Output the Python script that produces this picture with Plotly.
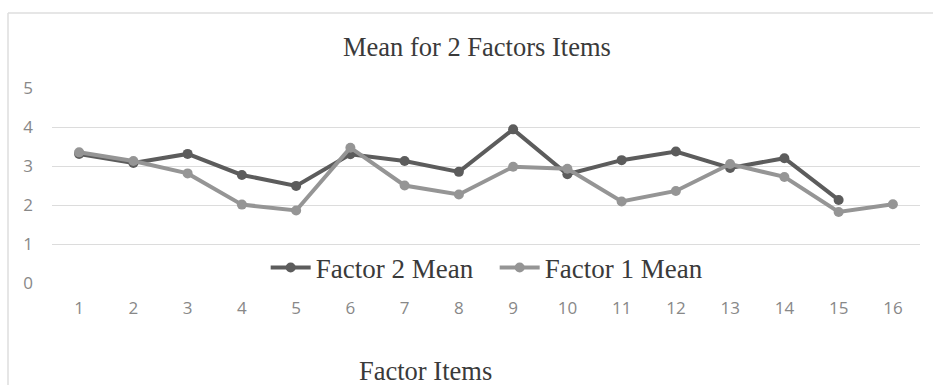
import plotly.graph_objects as go

items = [str(i) for i in range(1, 17)]
factor2_mean = [3.31, 3.08, 3.31, 2.77, 2.49, 3.30, 3.13, 2.85, 3.94, 2.79, 3.15, 3.37, 2.95, 3.20, 2.13, None]
factor1_mean = [3.35, 3.13, 2.81, 2.01, 1.86, 3.47, 2.50, 2.27, 2.98, 2.93, 2.09, 2.36, 3.05, 2.72, 1.82, 2.02]
y_ticks = [0, 1, 2, 3, 4, 5]

W, H = 933, 385
L, R, T, B = 52, 13, 88, 102

fig = go.Figure()
fig.add_trace(go.Scatter(
    x=items, y=factor2_mean, name="Factor 2 Mean", mode="lines+markers",
    line=dict(color="#5c5c5c", width=4), marker=dict(color="#5c5c5c", size=10),
))
fig.add_trace(go.Scatter(
    x=items, y=factor1_mean, name="Factor 1 Mean", mode="lines+markers",
    line=dict(color="#959595", width=4), marker=dict(color="#959595", size=10),
))

fig.update_layout(
    width=W, height=H,
    margin=dict(l=L, r=R, t=T, b=B),
    paper_bgcolor="white", plot_bgcolor="white",
    showlegend=True,
    legend=dict(
        orientation="h", x=0.51, xanchor="center", y=0.077, yanchor="middle",
        font=dict(family="Liberation Serif", size=27, color="#3a3a3a"),
        bgcolor="rgba(255,255,255,0)", itemwidth=40, entrywidth=174,
    ),
    xaxis=dict(
        type="category", range=[-0.5, 15.5], showgrid=False, zeroline=False,
        showline=False, ticks="", ticklabelstandoff=13,
        tickfont=dict(family="Open Sans", size=17, color="#888888"),
    ),
    yaxis=dict(
        range=[0, 5], tickvals=y_ticks, showgrid=True, gridcolor="#dcdcdc",
        gridwidth=1.3, zeroline=False, showline=False, ticks="",
        ticklabelstandoff=18,
        tickfont=dict(family="Open Sans", size=17, color="#888888"),
    ),
    annotations=[
        dict(text="Mean for 2 Factors Items", xref="paper", yref="paper",
             x=(477 - L) / (W - L - R), y=(H - B - 47) / (H - T - B),
             xanchor="center", yanchor="middle", showarrow=False,
             font=dict(family="Liberation Serif", size=26.5, color="#3a3a3a")),
        dict(text="Factor Items", xref="paper", yref="paper",
             x=(425 - L) / (W - L - R), y=(H - B - 371) / (H - T - B),
             xanchor="center", yanchor="middle", showarrow=False,
             font=dict(family="Liberation Serif", size=26.5, color="#3a3a3a")),
    ],
    shapes=[
        dict(type="line", xref="paper", yref="paper",
             x0=(8 - L) / (W - L - R), x1=1.1,
             y0=(H - B - 13) / (H - T - B), y1=(H - B - 13) / (H - T - B),
             line=dict(color="#dedede", width=1.5)),
        dict(type="line", xref="paper", yref="paper",
             x0=(8 - L) / (W - L - R), x1=(8 - L) / (W - L - R),
             y0=(H - B - 13) / (H - T - B), y1=-1,
             line=dict(color="#dedede", width=1.5)),
    ],
)

fig.write_html(
    "out.html",
    config={"displayModeBar": False},
    post_script="document.body.style.margin='0';document.body.style.padding='0';",
)
